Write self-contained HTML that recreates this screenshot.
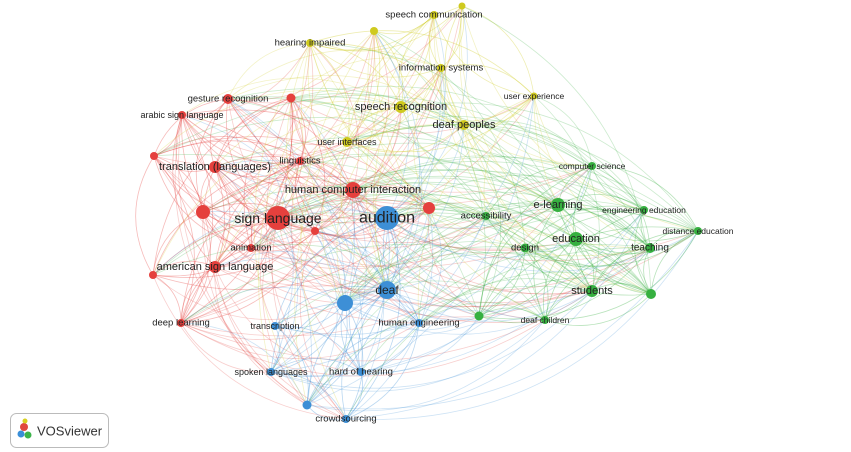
<!DOCTYPE html>
<html><head><meta charset="utf-8"><style>
html,body{margin:0;padding:0;background:#fff;width:851px;height:452px;overflow:hidden}
svg{display:block}
text{font-family:"Liberation Sans",sans-serif;fill:#222;text-anchor:middle;dominant-baseline:central}
</style></head><body>
<svg id="s" width="851" height="452" viewBox="0 0 851 452">
<g id="edges" fill="none" stroke-width="0.8"></g>
<g id="nodes"></g>
<g id="labels"></g>
<g>
<rect x="10.5" y="413.5" width="98" height="34" rx="6" fill="#fff" stroke="#bbb"/>
<circle cx="24" cy="427" r="4" fill="#e0483f"/>
<circle cx="21" cy="434" r="3.5" fill="#3a8fd8"/>
<circle cx="28" cy="435" r="3.5" fill="#3cb44a"/>
<circle cx="25" cy="421" r="2.5" fill="#d8d020"/>
<text x="37" y="431" style="text-anchor:start;font-size:13px;fill:#333">VOSviewer</text>
</g>
</svg>
<script>
var C={r:"#e5403d",y:"#cfca1f",g:"#36b040",b:"#3d8fd6"};
var N=[
["sign language",278,218,12,"r",14],["gesture recognition",228,99,5,"r",9.5],["",291,98,4.5,"r",0],
["arabic sign language",182,115,4,"r",9],["",154,156,4,"r",0],["translation (languages)",215,167,6,"r",11],
["linguistics",300,161,4,"r",9.5],["human computer interaction",353,190,8,"r",11],["",203,212,7,"r",0],
["",429,208,6,"r",0],["animation",251,248,4,"r",9.5],["",315,231,4,"r",0],["american sign language",215,267,6,"r",11],
["",153,275,4,"r",0],["deep learning",181,323,4,"r",9.5],
["speech communication",434,15,4,"y",9.5],["",462,6,3.5,"y",0],["",374,31,4,"y",0],["hearing impaired",310,43,4,"y",9.5],
["information systems",441,68,4,"y",9.5],["user experience",534,96,3.5,"y",8.5],["speech recognition",401,107,6,"y",11],
["deaf peoples",464,125,5,"y",11],["user interfaces",347,142,5,"y",9],
["audition",387,218,12,"b",16],["deaf",387,290,9,"b",12],["",345,303,8,"b",0],["human engineering",419,323,4,"b",9.5],
["transcription",275,326,4,"b",9],["spoken languages",271,372,4,"b",9],["hard of hearing",361,372,4,"b",9.5],
["",307,405,4.5,"b",0],["crowdsourcing",346,419,4,"b",9.5],
["computer science",592,166,4,"g",8.5],["e-learning",558,205,7,"g",11],["accessibility",486,216,4,"g",9.5],
["engineering education",644,210,4,"g",8.5],["distance education",698,231,4,"g",8.5],["education",576,239,7,"g",11],
["design",525,248,4.5,"g",9.5],["teaching",650,248,5,"g",10],["students",592,291,6,"g",11],["",651,294,5,"g",0],
["",479,316,4.5,"g",0],["deaf children",545,320,4,"g",8.5]];
var seed=7;function rnd(){seed=(seed*16807)%2147483647;return seed/2147483647;}
var E=document.getElementById("edges"),h="";
for(var i=0;i<N.length;i++)for(var j=i+1;j<N.length;j++){
 var a=N[i],b=N[j];var same=a[4]==b[4];
 var p=(same?0.85:0.3)*Math.min(1,(a[3]+b[3])/9);
 if(a[3]>=8||b[3]>=8)p+=0.4;
 if(rnd()>p)continue;
 var s=rnd()<0.5?a:b,t=s==a?b:a;
 var dx=t[1]-s[1],dy=t[2]-s[2];
 var cx=(s[1]+t[1])/2-dy*0.3,cy=(s[2]+t[2])/2+dx*0.3;
 h+='<path d="M'+s[1]+' '+s[2]+'Q'+cx.toFixed(1)+' '+cy.toFixed(1)+' '+t[1]+' '+t[2]+'" stroke="'+C[s[4]]+'" stroke-opacity="'+(same?0.35:0.25)+'"/>';
}
E.innerHTML=h;
var nh="",lh="";
N.forEach(function(n){nh+='<circle cx="'+n[1]+'" cy="'+n[2]+'" r="'+n[3]+'" fill="'+C[n[4]]+'"/>';
 if(n[0])lh+='<text x="'+n[1]+'" y="'+n[2]+'" style="font-size:'+n[5]+'px">'+n[0]+'</text>';});
document.getElementById("nodes").innerHTML=nh;
document.getElementById("labels").innerHTML=lh;
</script>
</body></html>
